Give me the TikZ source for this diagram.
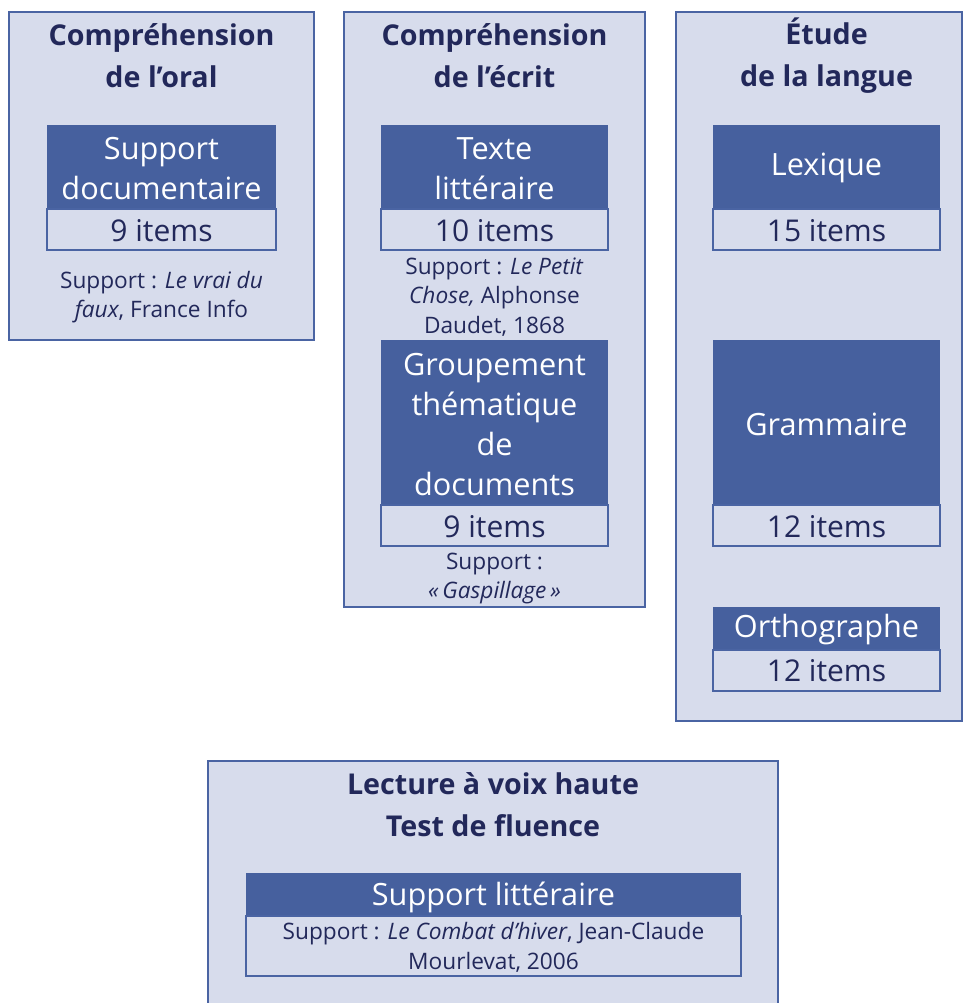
\documentclass[tikz,border=0pt]{standalone}
\usepackage{fontspec}
\setmainfont{Open Sans}
\usepackage{xcolor}
\definecolor{pale}{HTML}{D7DCEC}
\definecolor{bord}{HTML}{4A64A3}
\definecolor{dark}{HTML}{46609E}
\definecolor{ink}{HTML}{22285A}
\tikzstyle{panel}=[draw=bord,fill=pale,line width=1.5pt]
\tikzstyle{head}=[fill=dark]
\tikzstyle{count}=[draw=bord,line width=1.2pt]
\tikzstyle{title}=[font=\fontsize{21.5}{31.5}\selectfont\bfseries,text=ink,align=center]
\tikzstyle{label}=[font=\fontsize{23}{30}\selectfont,text=white,align=center]
\tikzstyle{items}=[font=\fontsize{22.5}{30}\selectfont,text=ink]
\tikzstyle{note}=[font=\fontsize{17}{22}\selectfont,text=ink,align=center]

\begin{document}
\begin{tikzpicture}[x=0.75pt,y=-0.75pt]
  \useasboundingbox (0,0) rectangle (963,1003);
  % panels
  \draw[panel] (9,12) rectangle (314,340);
  \draw[panel] (344,12) rectangle (645,607);
  \draw[panel] (676,12) rectangle (962,721);
  \draw[panel] (208,761) rectangle (778,1012);
  % comprehension de l'oral
  \node[title] (oral) at (161.5,56) {Compréhension\\de l’oral};
  \fill[head] (47,125) rectangle (276,209);
  \draw[count] (47,209) rectangle (276,250);
  \node[label] (docu) at (161.5,169) {Support\\documentaire};
  \node[items] (docun) at (161.5,231) {9 items};
  \node[note] (docus) at (161.5,297) {Support : \textit{Le vrai du}\\\textit{faux}, France Info};
  % comprehension de l'ecrit
  \node[title] (ecrit) at (494.5,56) {Compréhension\\de l’écrit};
  \fill[head] (381,125) rectangle (608,209);
  \draw[count] (381,209) rectangle (608,250);
  \node[label] (texte) at (494.5,169) {Texte\\littéraire};
  \node[items] (texten) at (494.5,231) {10 items};
  \node[note] (textes) at (494.5,297) {Support : \textit{Le Petit}\\\textit{Chose,} Alphonse\\Daudet, 1868};
  \fill[head] (381,340) rectangle (608,505);
  \draw[count] (381,505) rectangle (608,546);
  \node[label] (group) at (494.5,425) {Groupement\\thématique\\de\\documents};
  \node[items] (groupn) at (494.5,527) {9 items};
  \node[note] (groups) at (494.5,578.5) {Support :\\\textit{«\,Gaspillage\,»}};
  % etude de la langue
  \node[title] (langue) at (826.5,56) {Étude\\de la langue};
  \fill[head] (713,125) rectangle (940,209);
  \draw[count] (713,209) rectangle (940,250);
  \node[label] (lex) at (826.5,168) {Lexique};
  \node[items] (lexn) at (826.5,231) {15 items};
  \fill[head] (713,340) rectangle (940,505);
  \draw[count] (713,505) rectangle (940,546);
  \node[label] (gram) at (826.5,424) {Grammaire};
  \node[items] (gramn) at (826.5,527) {12 items};
  \fill[head] (713,607) rectangle (940,650);
  \draw[count] (713,650) rectangle (940,691);
  \node[label] (ortho) at (826.5,630) {Orthographe};
  \node[items] (orthon) at (826.5,671) {12 items};
  % lecture a voix haute
  \node[title] (lecture) at (493,805) {Lecture à voix haute\\Test de fluence};
  \fill[head] (246,873) rectangle (741,916);
  \draw[count] (246,916) rectangle (741,976);
  \node[label] (lit) at (493.5,897) {Support littéraire};
  \node[note] (lits) at (493.5,947.5) {Support : \textit{Le Combat d’hiver}, Jean-Claude\\Mourlevat, 2006};
\end{tikzpicture}
\end{document}
